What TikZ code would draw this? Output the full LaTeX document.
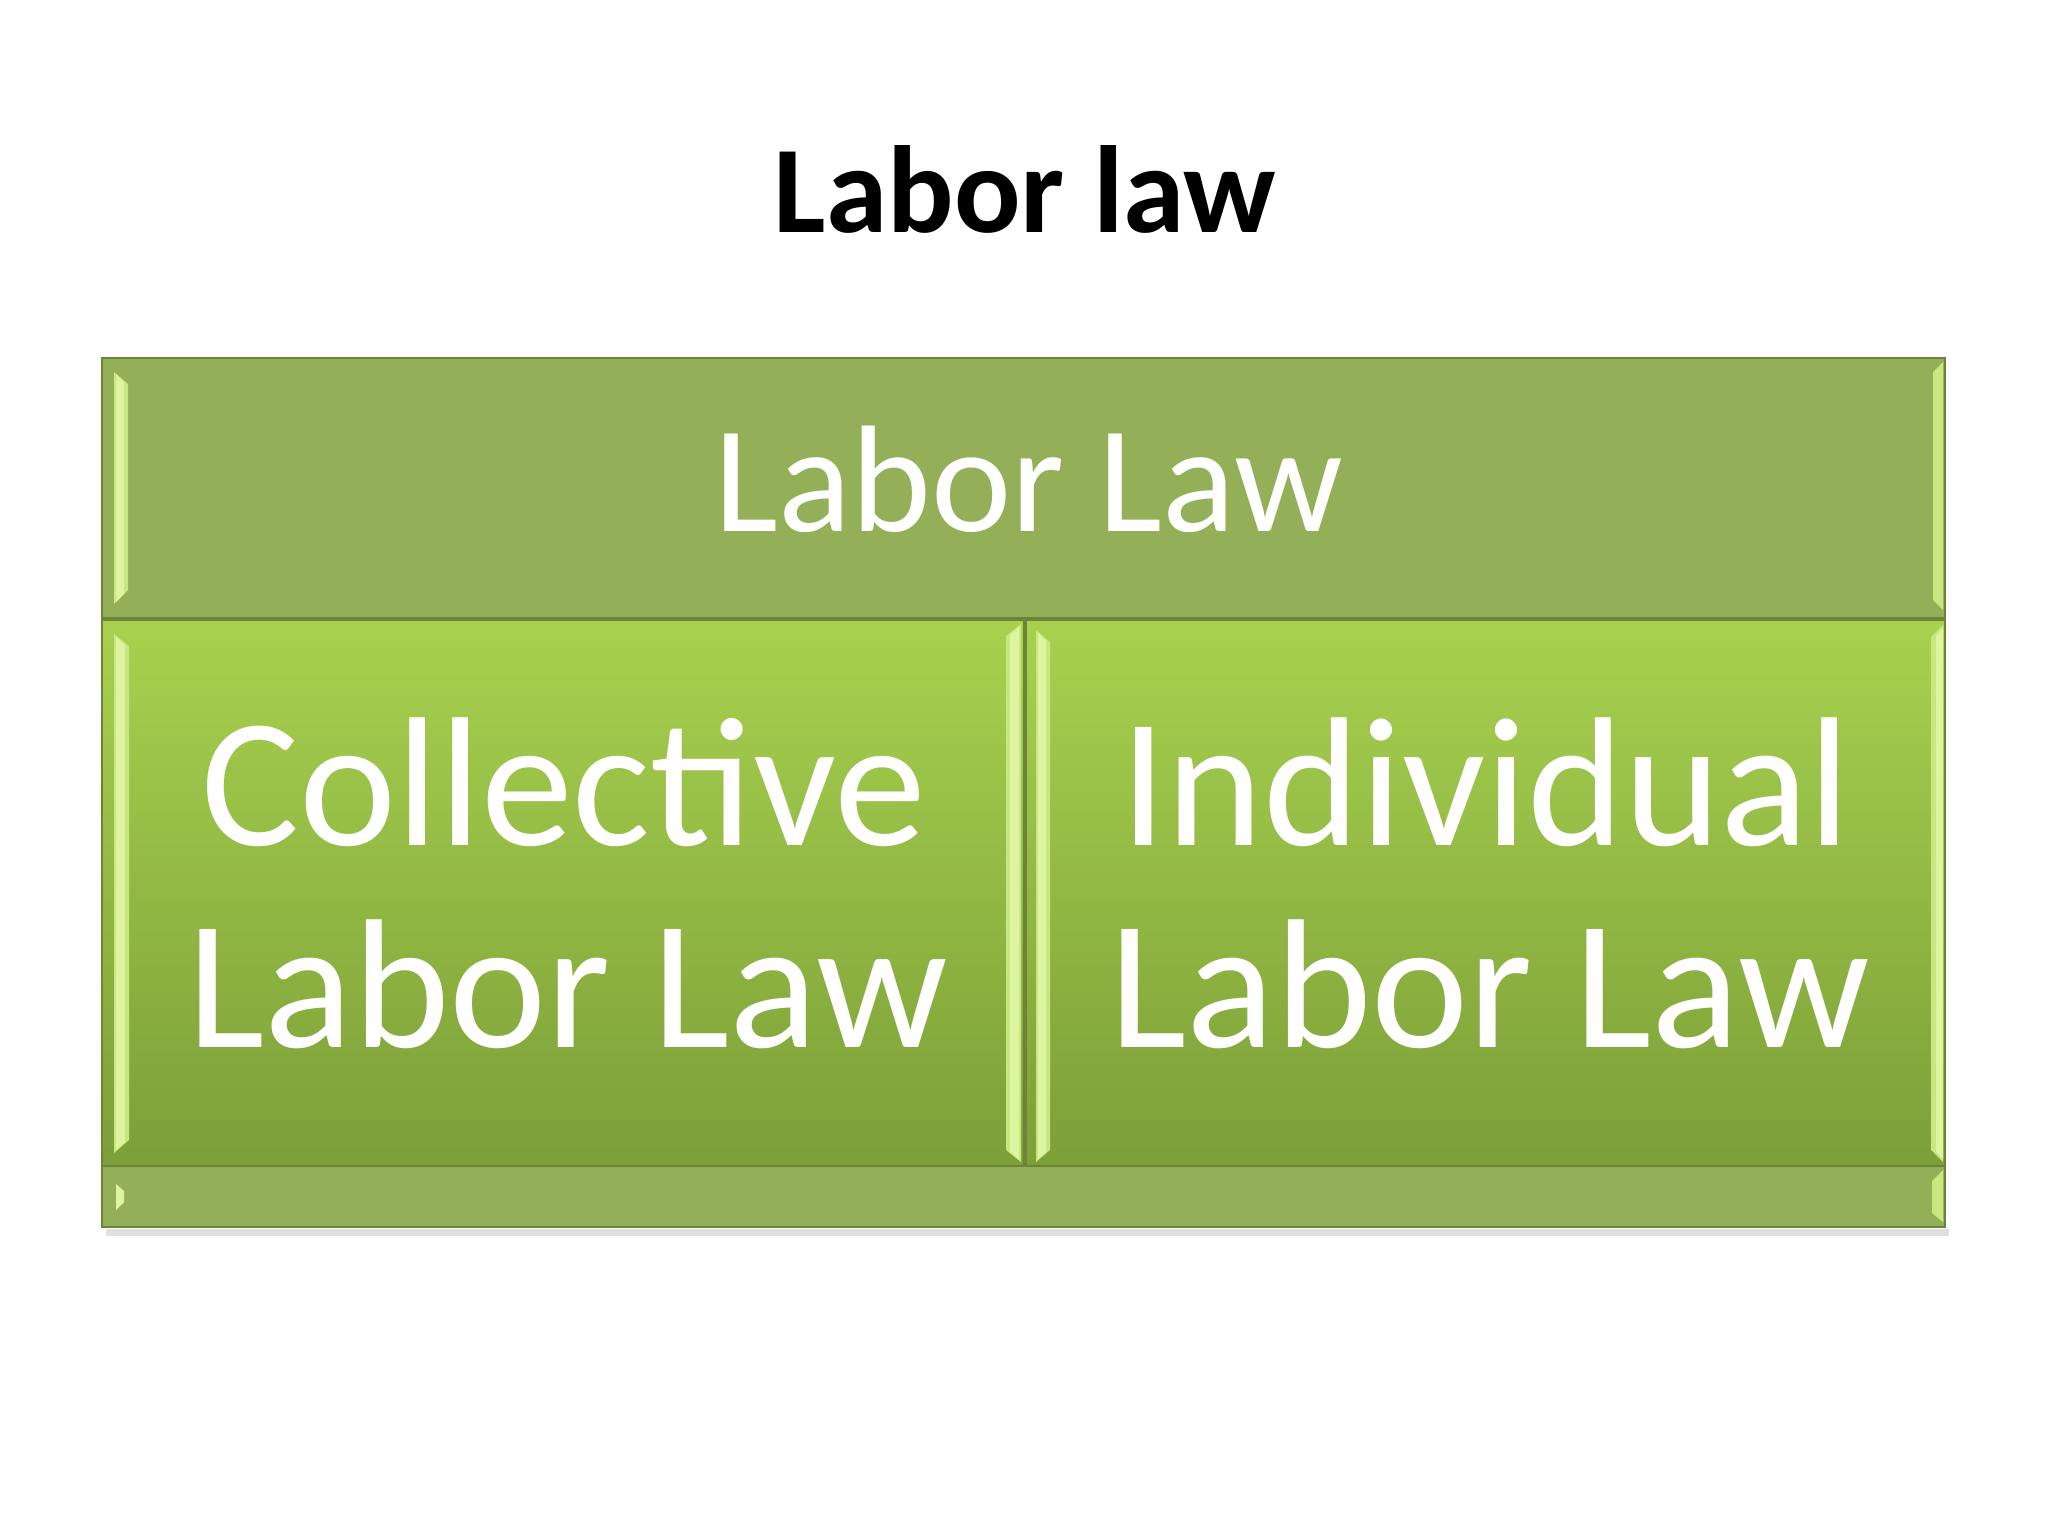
\documentclass[tikz,border=0pt]{standalone}
\usepackage{fontspec}
\setmainfont{Carlito}
\begin{document}
\begin{tikzpicture}[x=1pt,y=-1pt,
  band/.style={fill=bandgreen,draw=edgegreen,line width=2pt},
  cell/.style={top color=celltop,bottom color=cellbot,draw=edgegreen,line width=2pt},
  hl/.style={fill=hlgreen,draw=none},
  hlsoft/.style={fill=hlgreen!60!celltop,draw=none},
  lbl/.style={anchor=base,text=white,inner sep=0pt}]
\definecolor{bandgreen}{HTML}{93AF58}
\definecolor{edgegreen}{HTML}{6B843A}
\definecolor{celltop}{HTML}{A8D14F}
\definecolor{cellbot}{HTML}{7C9F38}
\definecolor{hlgreen}{HTML}{DDF5A0}
\useasboundingbox[fill=white] (0,0) rectangle (2048,1536);
% shadow
\fill[black!12] (106,1229) rectangle (1949,1236);
% bands and cells
\path[band] (102,358) rectangle (1945,618);
\path[band] (102,1166) rectangle (1945,1227);
\path[cell] (102,620) rectangle (1024,1166);
\path[cell] (1026,620) rectangle (1945,1166);
% highlights
\fill[hlsoft] (114,372) -- (128,384) -- (128,590) -- (114,604) -- cycle;
\fill[hl] (116,374) -- (124,382) -- (124,594) -- (116,602) -- cycle;
\fill[hlsoft] (1943,362) -- (1933,372) -- (1933,600) -- (1943,610) -- cycle;
\fill[hlsoft] (114,634) -- (129,646) -- (129,1140) -- (114,1153) -- cycle;
\fill[hl] (116,637) -- (125,645) -- (125,1142) -- (116,1150) -- cycle;
\fill[hlsoft] (1021,624) -- (1006,636) -- (1006,1150) -- (1021,1162) -- cycle;
\fill[hl] (1019,627) -- (1010,635) -- (1010,1152) -- (1019,1160) -- cycle;
\fill[hlsoft] (1036,630) -- (1050,642) -- (1050,1150) -- (1036,1162) -- cycle;
\fill[hl] (1038,633) -- (1046,641) -- (1046,1152) -- (1038,1159) -- cycle;
\fill[hlsoft] (1943,625) -- (1931,637) -- (1931,1150) -- (1943,1162) -- cycle;
\fill[hl] (1943,628) -- (1936,636) -- (1936,1152) -- (1943,1159) -- cycle;
\fill[hl] (116,1184) -- (124,1191) -- (124,1202) -- (116,1210) -- cycle;
\fill[hlsoft] (1943,1170) -- (1932,1181) -- (1932,1213) -- (1943,1222) -- cycle;
% texts
\node[anchor=base,inner sep=0pt,font=\fontsize{124}{124}\selectfont\bfseries] (title) at (1025,232) {Labor law};
\node[lbl,font=\fontsize{152}{152}\selectfont] (top) at (1029,531) {Labor Law};
\node[lbl,font=\fontsize{184}{184}\selectfont] (c1) at (564,845) {Collective};
\node[lbl,font=\fontsize{184}{184}\selectfont] (c2) at (568,1047) {Labor Law};
\node[lbl,font=\fontsize{184}{184}\selectfont] (i1) at (1486,845) {Individual};
\node[lbl,font=\fontsize{184}{184}\selectfont] (i2) at (1490,1047) {Labor Law};
\end{tikzpicture}
\end{document}
